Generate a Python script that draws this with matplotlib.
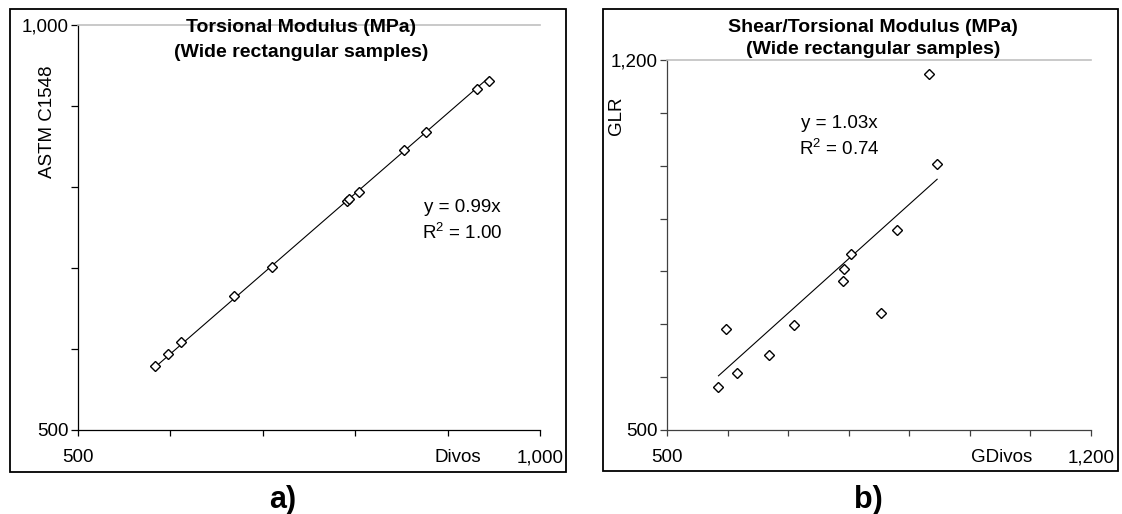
import matplotlib

matplotlib.use("Agg")
import matplotlib.pyplot as plt
import numpy as np
from matplotlib.patches import Rectangle
from matplotlib.ticker import FuncFormatter

plt.rcParams["font.family"] = ["Liberation Sans", "DejaVu Sans"]

# --- data ---
divos_a = [583, 597, 612, 669, 710, 791, 793, 804, 853, 877, 932, 945]
astm_a = [579, 594, 609, 665, 701, 783, 785, 794, 846, 868, 921, 931]
slope_a = 0.99
r2_a = 1.00

divos_b = [585, 598, 616, 669, 710, 791, 793, 804, 854, 879, 933, 946]
glr_b = [581, 692, 607, 642, 698, 782, 804, 833, 722, 878, 1173, 1003]
slope_b = 1.03
r2_b = 0.74

W, H = 1122, 514
fig = plt.figure(figsize=(W / 100, H / 100), dpi=100)


def fx(px):
    return px / W


def fy(py):
    return 1 - py / H


def panel(box, x, y, slope, r2, lim, xname, yname, title, title_xy, tspace,
          eq_xy, ylab_xy, xname_xy, frame, letter, letter_xy, axcol):
    l, t, r, b = box
    ax = fig.add_axes([fx(l), fy(b), fx(r) - fx(l), fy(t) - fy(b)])
    lo, hi = lim
    ax.set_xlim(lo, hi)
    ax.set_ylim(lo, hi)
    ticks = np.arange(lo, hi + 1, 100)
    ax.set_xticks(ticks)
    ax.set_yticks(ticks)
    # only the two end ticks carry a label, like the excel original
    fmt = FuncFormatter(lambda v, p: f"{int(v):,}" if v in (lo, hi) else "")
    ax.xaxis.set_major_formatter(fmt)
    ax.yaxis.set_major_formatter(fmt)
    ax.tick_params(axis="y", direction="out", length=5, width=0.9,
                   pad=2, labelsize=13.5, color=axcol)
    ax.tick_params(axis="x", direction="out", length=4, width=0.9,
                   pad=10, labelsize=13.5, color=axcol)
    ax.spines["right"].set_visible(False)
    ax.spines["top"].set_color("#c0c0c0")
    ax.spines["top"].set_linewidth(1.2)
    for s in ("left", "bottom"):
        ax.spines[s].set_color(axcol)
        ax.spines[s].set_linewidth(0.9)

    x = np.asarray(x, float)
    y = np.asarray(y, float)
    xs = np.array([x.min(), x.max()])
    ax.plot(xs, slope * xs, color="black", lw=0.8, zorder=2)
    ax.plot(x, y, ls="none", marker="D", ms=4.6, mfc="white",
            mec="black", mew=1.0, zorder=3, clip_on=False)

    fig.text(fx(title_xy[0]), fy(title_xy[1]), title, ha="center",
             va="center", fontsize=14, fontweight="bold", linespacing=tspace)
    fig.text(fx(eq_xy[0]), fy(eq_xy[1]),
             f"y = {slope:.2f}x\n$\\mathregular{{R^2}}$ = {r2:.2f}",
             ha="center", va="center", fontsize=13.5, linespacing=1.45)
    fig.text(fx(ylab_xy[0]), fy(ylab_xy[1]), yname, rotation=90,
             ha="center", va="center", fontsize=13.5)
    fig.text(fx(xname_xy[0]), fy(xname_xy[1]), xname, ha="center",
             va="center", fontsize=13.5)
    fl, ft, fr, fb = frame
    fig.add_artist(Rectangle((fx(fl), fy(fb)), fx(fr) - fx(fl),
                             fy(ft) - fy(fb), transform=fig.transFigure,
                             fill=False, ec="black", lw=1.3))
    fig.text(fx(letter_xy[0]), fy(letter_xy[1]), letter, ha="center",
             va="center", fontsize=22, fontweight="bold")
    return ax


panel((78, 25, 540, 430), divos_a, astm_a, slope_a, r2_a, (500, 1000),
      "Divos", "ASTM C1548",
      "Torsional Modulus (MPa)\n(Wide rectangular samples)", (301, 40), 1.6,
      (462, 221), (47, 122), (458, 458),
      (10, 9, 566, 472), "a)", (283, 500), "black")

panel((667, 60, 1091, 430), divos_b, glr_b, slope_b, r2_b, (500, 1200),
      "GDivos", "GLR",
      "Shear/Torsional Modulus (MPa)\n(Wide rectangular samples)", (873, 38.5), 1.45,
      (839, 137), (617, 116), (1002, 458),
      (603, 9, 1118, 471), "b)", (868, 500), "#404040")

fig.savefig("out.png", dpi=100)
